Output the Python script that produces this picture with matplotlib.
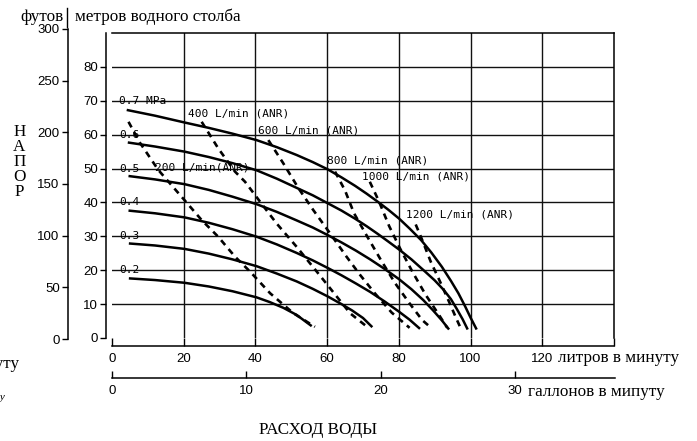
import matplotlib
matplotlib.use("Agg")
import matplotlib.pyplot as plt

# ---------------- data ----------------
# pressure curves (solid): flow L/min vs head m
p07_x = [4.1, 12, 20.2, 27, 33.6, 40.3, 46, 51.5, 56, 60.1, 64, 67.8, 71, 74, 77, 80.1, 83, 86.2, 89, 92, 94.5, 96.6, 98.5, 100, 101.7]
p07_y = [67.3, 65.6, 63.6, 62.0, 60.3, 58.4, 56.3, 54.0, 51.9, 49.8, 47.4, 44.9, 42.6, 40.3, 37.9, 35.2, 32.3, 28.9, 25.3, 21.0, 16.9, 13.2, 9.3, 6.0, 2.5]
p06_x = [4.4, 12, 20.2, 27, 33.6, 40.3, 46, 51.5, 56, 60.1, 64, 67.8, 71, 74, 77, 80.2, 83.5, 87, 90, 92.5, 94.5, 96.2, 97.8, 99.2]
p06_y = [57.7, 56.5, 55.0, 53.4, 51.6, 49.5, 47.0, 44.3, 42.1, 39.8, 37.6, 35.2, 33.0, 30.8, 28.5, 26.0, 23.2, 19.9, 17.0, 14.2, 11.5, 8.5, 5.5, 2.5]
p05_x = [4.6, 12, 20.2, 27, 33.6, 40.3, 46, 51.5, 56, 60.1, 64, 68, 72, 76, 80, 83.5, 86.8, 89.5, 92, 94]
p05_y = [47.8, 46.8, 45.4, 43.7, 41.7, 39.5, 37.2, 34.7, 32.6, 30.4, 28.2, 25.8, 23.2, 20.4, 17.4, 14.4, 11.2, 8.2, 5.2, 2.5]
p04_x = [4.6, 12, 20.2, 27, 33.6, 40.3, 46, 51.5, 56, 60.1, 64, 68, 72, 76, 80, 83, 85.9]
p04_y = [37.6, 36.8, 35.6, 34.0, 32.1, 29.9, 27.6, 25.1, 22.9, 20.7, 18.5, 16.1, 13.6, 10.8, 7.8, 5.4, 2.7]
p03_x = [4.7, 12, 20.2, 27, 33.6, 40.3, 46, 51.5, 56, 60.1, 64, 67, 70, 72.6]
p03_y = [27.9, 27.3, 26.3, 24.9, 23.2, 21.2, 19.0, 16.7, 14.5, 12.3, 10.0, 8.1, 5.9, 3.2]
p02_x = [4.7, 12, 20.2, 27, 33.6, 40.3, 44, 47.8, 51.5, 55.7]
p02_y = [17.6, 17.1, 16.3, 15.2, 13.8, 12.0, 10.6, 8.9, 6.8, 3.5]
pressure_labels = ["0.7 MPa", "0.6", "0.5", "0.4", "0.3", "0.2"]
pressure_label_y = [70, 60, 50, 40, 30, 20]

# air consumption curves (dashed)
a200_x = [4.6, 7.8, 12.9, 20.2, 25.0, 29.6, 34.3, 38.5, 44.1, 50.6, 56.6]
a200_y = [63.8, 57.6, 49.6, 40.7, 34.8, 29.9, 24.0, 19.6, 13.2, 7.3, 3.3]
a400_x = [25.0, 29.6, 34.3, 37.1, 41.3, 45.9, 51.5, 57.1, 62.7, 66.4, 71.5]
a400_y = [63.8, 56.0, 49.1, 46.1, 40.2, 33.8, 26.9, 19.6, 12.2, 7.3, 3.0]
a600_x = [43.6, 47.8, 52.0, 56.1, 60.8, 65.4, 69.2, 73.3, 78.0, 83.0]
a600_y = [58.4, 51.5, 44.2, 37.8, 30.9, 24.0, 18.6, 13.2, 7.5, 3.0]
a800_x = [62.2, 65.0, 67.5, 71.2, 75.0, 79.0, 83.0, 86.5, 89.0]
a800_y = [49.1, 43.5, 36.8, 29.9, 23.0, 16.1, 10.2, 5.3, 3.0]
a1000_x = [71.9, 74.5, 77.3, 80.3, 83.8, 87.5, 91.2, 93.5]
a1000_y = [46.1, 40.2, 33.0, 26.5, 19.5, 12.7, 6.8, 3.0]
a1200_x = [84.7, 86.4, 88.9, 91.5, 94.0, 96.0, 97.2]
a1200_y = [33.5, 29.2, 22.5, 16.6, 10.7, 5.8, 3.0]
air_labels = ["200 L/min(ANR)", "400 L/min (ANR)", "600 L/min (ANR)",
              "800 L/min (ANR)", "1000 L/min (ANR)", "1200 L/min (ANR)"]
air_label_x = [12.0, 21.1, 40.8, 59.9, 69.8, 81.9]
air_label_y = [50.3, 66.3, 61.2, 52.3, 47.6, 36.3]

m_ticks = [0, 10, 20, 30, 40, 50, 60, 70, 80]
ft_ticks = [0, 50, 100, 150, 200, 250, 300]
lpm_ticks = [0, 20, 40, 60, 80, 100, 120, 140]
lpm_ticklabels = ["0", "20", "40", "60", "80", "100", "120", ""]
gal_ticks = [0, 10, 20, 30]

# ---------------- figure ----------------
W, H = 697, 441
fig = plt.figure(figsize=(W / 100, H / 100), dpi=100)

def fx(px):
    return px / W

def fy(py):
    return 1 - py / H

serif = ["Liberation Serif", "DejaVu Serif"]
SANS = "Liberation Sans"
mono = ["DejaVu Sans Mono"]
TSZ = 9.5

L, R, T, B = 112, 614, 33, 338
ax = fig.add_axes([fx(L), fy(B), (R - L) / W, (B - T) / H])
ax.spines["left"].set_position(("outward", 4))
ax.spines["bottom"].set_position(("outward", 6))
ax.set_xlim(0, 140)
ax.set_ylim(0, 90)
ax.set_xticks(lpm_ticks)
ax.set_xticklabels(lpm_ticklabels)
ax.set_yticks(m_ticks)
for s in ax.spines.values():
    s.set_linewidth(1.1)
ax.tick_params(axis="y", direction="out", length=4, width=1, pad=2,
               labelsize=TSZ, labelfontfamily=SANS)
ax.tick_params(axis="x", direction="in", length=6, width=1, pad=5,
               labelsize=TSZ, labelfontfamily=SANS)
# grid
for yv in range(10, 90, 10):
    ax.axhline(yv, color="#111", lw=1.0, zorder=1)
for xv in range(20, 140, 20):
    ax.axvline(xv, color="#111", lw=1.0, zorder=1)

solid_kw = dict(color="black", lw=1.8, solid_capstyle="butt",
                solid_joinstyle="round", zorder=3)
for xs, ys in [(p07_x, p07_y), (p06_x, p06_y), (p05_x, p05_y),
               (p04_x, p04_y), (p03_x, p03_y), (p02_x, p02_y)]:
    ax.plot(xs, ys, **solid_kw)

dash_kw = dict(color="black", lw=1.9, linestyle=(0, (2.4, 2.0)), zorder=3)
for xs, ys in [(a200_x, a200_y), (a400_x, a400_y), (a600_x, a600_y),
               (a800_x, a800_y), (a1000_x, a1000_y), (a1200_x, a1200_y)]:
    ax.plot(xs, ys, **dash_kw)

for lab, yv in zip(pressure_labels, pressure_label_y):
    ax.text(2.0, yv, lab, fontfamily=mono, fontsize=8, ha="left", va="center", zorder=4)
for lab, xv, yv in zip(air_labels, air_label_x, air_label_y):
    ax.text(xv, yv, lab, fontfamily=mono, fontsize=8, ha="left", va="center", zorder=4)

# feet axis
axf = fig.add_axes([fx(68), fy(339), 0.001, (339 - 29) / H])
axf.set_ylim(0, 300)
axf.set_yticks(ft_ticks)
axf.set_xticks([])
for k in ["right", "top", "bottom"]:
    axf.spines[k].set_visible(False)
axf.spines["left"].set_linewidth(1.1)
axf.patch.set_visible(False)
axf.tick_params(axis="y", direction="out", length=4, width=1, pad=2,
                labelsize=TSZ, labelfontfamily=SANS)

# gallons axis
axg = fig.add_axes([fx(112), fy(378), (615 - 112) / W, 0.001])
axg.set_xlim(0, 37.45)
axg.set_xticks(gal_ticks)
axg.set_yticks([])
for k in ["left", "right", "top"]:
    axg.spines[k].set_visible(False)
axg.spines["bottom"].set_linewidth(1.1)
axg.patch.set_visible(False)
axg.tick_params(axis="x", direction="in", length=5, width=1, pad=5,
                labelsize=TSZ, labelfontfamily=SANS)

# texts
FS = 12.3
fig.text(fx(20), fy(17), "футов", fontfamily=serif, fontsize=FS, ha="left", va="center")
fig.text(fx(75), fy(17), "метров водного столба", fontfamily=serif, fontsize=FS,
         ha="left", va="center")
fig.add_artist(plt.Line2D([fx(67), fx(67)], [fy(8), fy(27)], color="black", lw=1))
for i, ch in enumerate("НАПОР"):
    fig.text(fx(19.5), fy(132 + 15 * i), ch, fontfamily=serif, fontsize=FS,
             ha="center", va="center")
fig.text(fx(558), fy(358), "литров в минуту", fontfamily=serif, fontsize=FS,
         ha="left", va="center")
fig.text(fx(528), fy(392), "галлонов в мипуту", fontfamily=serif, fontsize=FS,
         ha="left", va="center")
fig.text(fx(318), fy(430), "РАСХОД ВОДЫ", fontfamily=serif, fontsize=FS,
         ha="center", va="center")
fig.text(fx(19), fy(364), "литров в минуту", fontfamily=serif, fontsize=FS,
         ha="right", va="center")
fig.text(fx(5), fy(398), "галлонов в минуту", fontfamily=serif, fontsize=8,
         ha="right", va="center", style="italic")

fig.savefig("out.png", dpi=100, facecolor="white")
